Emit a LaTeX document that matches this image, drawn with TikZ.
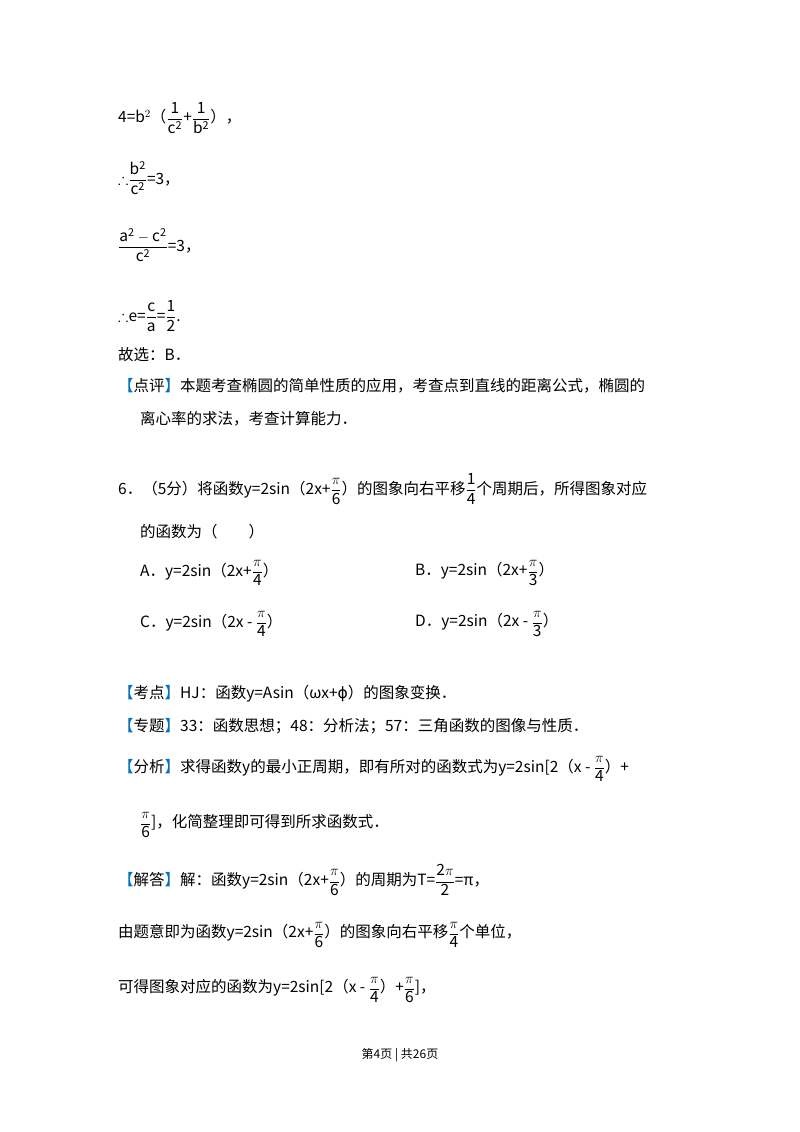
\documentclass[tikz,border=0pt]{standalone}
\usepackage{amsmath,amssymb}
\usepackage{fontspec}
\setmainfont{Noto Sans CJK SC}
\newfontfamily\djv{DejaVu Sans}
\definecolor{lb}{RGB}{0,112,192}
\newcommand{\fr}[2]{$\dfrac{\mathrm{#1}}{\mathrm{#2}}$}
\newcommand{\lab}[1]{\textcolor{lb}{【}#1\textcolor{lb}{】}}
\begin{document}
\begin{tikzpicture}[x=1pt,y=-1pt,
  t/.style={anchor=west,inner sep=0pt,font=\fontsize{15.5}{18}\selectfont}]
\useasboundingbox (0,0) rectangle (800,1132);
\node[t] (l1) at (118,118) {4=b$^2$（\fr{1}{c^2}+\fr{1}{b^2}），};
\node[t] (l2) at (118,178) {$\therefore$\fr{b^2}{c^2}=3，};
\node[t] (l3) at (118,245) {\fr{a^2-c^2}{c^2}=3，};
\node[t] (l4) at (118,316) {$\therefore$e=\fr{c}{a}=\fr{1}{2}.};
\node[t] (l5) at (118,355) {故选：B．};
\node[t] (l6) at (118,386) {\lab{点评}本题考查椭圆的简单性质的应用，考查点到直线的距离公式，椭圆的};
\node[t] (l7) at (140,419) {离心率的求法，考查计算能力．};
\node[t] (q6) at (118,489) {6．（5分）将函数y=2sin（2x+\fr{\pi}{6}）的图象向右平移\fr{1}{4}个周期后，所得图象对应};
\node[t] (q6b) at (140,532) {的函数为（\hspace{2em}）};
\node[t] (oa) at (140,573) {A．y=2sin（2x+\fr{\pi}{4}）};
\node[t] (ob) at (415,573) {B．y=2sin（2x+\fr{\pi}{3}）};
\node[t] (oc) at (140,624) {C．y=2sin（2x - \fr{\pi}{4}）};
\node[t] (od) at (415,624) {D．y=2sin（2x - \fr{\pi}{3}）};
\node[t] (k1) at (118,694) {\lab{考点}HJ：函数y=Asin（ωx+{\djv ϕ}）的图象变换．};
\node[t] (k2) at (118,726) {\lab{专题}33：函数思想；48：分析法；57：三角函数的图像与性质．};
\node[t] (k3) at (118,769) {\lab{分析}求得函数y的最小正周期，即有所对的函数式为y=2sin[2（x - \fr{\pi}{4}）+};
\node[t] (k4) at (140,825) {\fr{\pi}{6}]，化简整理即可得到所求函数式．};
\node[t] (k5) at (118,880) {\lab{解答}解：函数y=2sin（2x+\fr{\pi}{6}）的周期为T=\fr{2\pi}{2}=π，};
\node[t] (k6) at (118,935) {由题意即为函数y=2sin（2x+\fr{\pi}{6}）的图象向右平移\fr{\pi}{4}个单位，};
\node[t] (k7) at (118,990) {可得图象对应的函数为y=2sin[2（x - \fr{\pi}{4}）+\fr{\pi}{6}]，};
\node[anchor=center,inner sep=0pt,font=\fontsize{12}{14}\selectfont] (pg) at (400,1055) {第4页 | 共26页};
\end{tikzpicture}
\end{document}
